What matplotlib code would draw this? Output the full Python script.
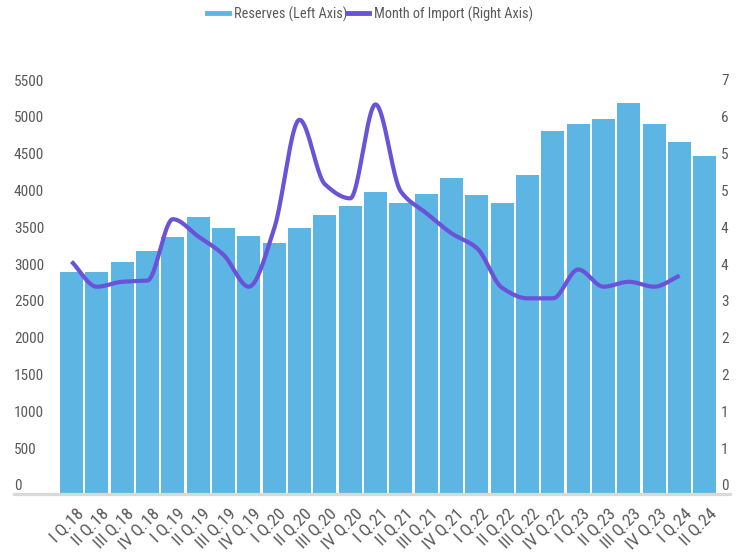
import numpy as np
import matplotlib
matplotlib.use("Agg")
import matplotlib.pyplot as plt
from matplotlib.lines import Line2D
from matplotlib.transforms import ScaledTranslation

quarters = ["I Q.18", "II Q.18", "III Q.18", "IV Q.18",
            "I Q.19", "II Q.19", "III Q.19", "IV Q.19",
            "I Q.20", "II Q.20", "III Q.20", "IV Q.20",
            "I Q.21", "II Q.21", "III Q.21", "IV Q.21",
            "I Q.22", "II Q.22", "III Q.22", "IV Q.22",
            "I Q.23", "II Q.23", "III Q.23", "IV Q.23",
            "I Q.24", "II Q.24"]
reserves = [3010, 3010, 3150, 3290, 3480, 3750, 3610, 3500,
            3400, 3610, 3780, 3910, 4100, 3940, 4070, 4290,
            4050, 3940, 4320, 4920, 5020, 5080, 5300, 5020,
            4780, 4590]
months_import = [3.78, 3.37, 3.45, 3.47, 4.47, 4.19, 3.89, 3.37,
                 4.32, 6.09, 5.04, 4.81, 6.34, 4.92, 4.57, 4.24,
                 4.00, 3.35, 3.18, 3.18, 3.65, 3.37, 3.45, 3.37,
                 3.55, np.nan]
left_ticks = [0, 500, 1000, 1500, 2000, 2500, 3000, 3500, 4000, 4500, 5000, 5500]
right_ticks = [0, 0.6, 1.2, 1.8, 2.4, 3.0, 3.6, 4.2, 4.8, 5.4, 6.0, 6.6]

BAR = "#5db5e3"
LINE = "#6a52d9"
TXT = "#595959"
plt.rcParams["font.family"] = ["Roboto Condensed", "Lato", "DejaVu Sans"]


def monotone_curve(x, y, n=40):
    x = np.asarray(x, float)
    y = np.asarray(y, float)
    h = np.diff(x)
    d = np.diff(y) / h
    m = np.zeros_like(y)
    m[0], m[-1] = d[0], d[-1]
    for k in range(1, len(x) - 1):
        if d[k - 1] * d[k] <= 0:
            m[k] = 0.0
        else:
            w1 = 2 * h[k] + h[k - 1]
            w2 = h[k] + 2 * h[k - 1]
            m[k] = (w1 + w2) / (w1 / d[k - 1] + w2 / d[k])
    xs, ys = [], []
    for k in range(len(x) - 1):
        t = np.linspace(0, 1, n, endpoint=(k == len(x) - 2))
        h00 = 2 * t**3 - 3 * t**2 + 1
        h10 = t**3 - 2 * t**2 + t
        h01 = -2 * t**3 + 3 * t**2
        h11 = t**3 - t**2
        xs.append(x[k] + t * h[k])
        ys.append(h00 * y[k] + h10 * h[k] * m[k] + h01 * y[k + 1] + h11 * h[k] * m[k + 1])
    return np.concatenate(xs), np.concatenate(ys)


fig = plt.figure(figsize=(7.4, 5.54), dpi=100)
ax = fig.add_axes([14 / 740, (554 - 493.5) / 554, (730 - 14) / 740, 405 / 554])
x = np.arange(len(quarters))
ax.bar(x, reserves, width=0.91, color=BAR, zorder=1)
ax.set_xlim(-2.27, 25.99)
ax.set_ylim(0, 5500)
ax.set_yticks(left_ticks)
ax.set_yticklabels([str(v) for v in left_ticks])
ax.tick_params(axis="y", length=0, pad=0, labelsize=11, labelcolor=TXT)
for lab in ax.get_yticklabels():
    lab.set_horizontalalignment("left")
    lab.set_verticalalignment("bottom")
ax.set_xticks(x)
ax.set_xticklabels(quarters, rotation=45, ha="right", va="top",
                   rotation_mode="anchor", fontsize=12.5, color=TXT)
ax.tick_params(axis="x", length=0, pad=9)
shift = ScaledTranslation(4 / 100, 0, fig.dpi_scale_trans)
for lab in ax.get_xticklabels():
    lab.set_transform(lab.get_transform() + shift)
for s in ["top", "left", "right"]:
    ax.spines[s].set_visible(False)
ax.spines["bottom"].set_color("#d9d9d9")
ax.spines["bottom"].set_linewidth(2.3)

ax2 = ax.twinx()
ax2.set_ylim(0, 6.6)
ax2.set_yticks(right_ticks)
ax2.set_yticklabels([f"{v:.0f}" for v in right_ticks])
ax2.tick_params(axis="y", length=0, pad=-6.5, labelsize=11, labelcolor=TXT)
for lab in ax2.get_yticklabels():
    lab.set_verticalalignment("bottom")
for s in ["top", "left", "right", "bottom"]:
    ax2.spines[s].set_visible(False)

mi = np.array(months_import, float)
valid = ~np.isnan(mi)
cx, cy = monotone_curve(x[valid], mi[valid])
ax2.plot(cx, cy, color=LINE, lw=3, solid_capstyle="butt", zorder=3)

handles = [Line2D([], [], color=BAR, lw=3.5), Line2D([], [], color=LINE, lw=3.5)]
fig.legend(handles, ["Reserves (Left Axis)", "Month of Import (Right Axis)"],
           loc="center", bbox_to_anchor=(0.5, 1 - 14 / 554), ncol=2, frameon=False,
           fontsize=10.3, handlelength=1.5, handletextpad=0.35, columnspacing=0.0,
           labelcolor=TXT)

fig.savefig("out.png", dpi=100)
